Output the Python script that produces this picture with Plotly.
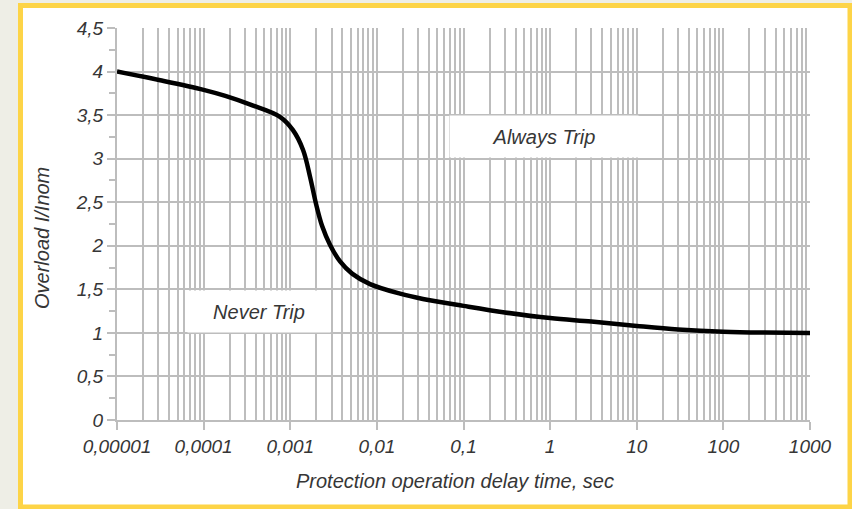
import plotly.graph_objects as go

# ---- data ----
delay_time_s = [1e-5, 3.16e-5, 1e-4, 1.78e-4, 3.47e-4, 7.6e-4, 1.07e-3, 1.406e-3,
                1.694e-3, 1.986e-3, 2.328e-3, 2.884e-3, 3.758e-3, 5.176e-3, 8.337e-3,
                1.854e-2, 3.4e-2, 0.1, 0.3, 1, 3, 10, 30, 100, 300, 1000]
overload = [4.00, 3.90, 3.79, 3.72, 3.62, 3.48, 3.33, 3.10,
            2.79, 2.48, 2.23, 2.01, 1.82, 1.68, 1.56,
            1.45, 1.39, 1.31, 1.235, 1.17, 1.13, 1.08, 1.04, 1.014, 1.004, 1.00]

x_tick_vals = [1e-5, 1e-4, 1e-3, 1e-2, 1e-1, 1, 10, 100, 1000]
x_tick_text = ["0,00001", "0,0001", "0,001", "0,01", "0,1", "1", "10", "100", "1000"]
y_tick_vals = [0, 0.5, 1, 1.5, 2, 2.5, 3, 3.5, 4, 4.5]
y_tick_text = ["0", "0,5", "1", "1,5", "2", "2,5", "3", "3,5", "4", "4,5"]
y_minor_vals = [0.25, 0.75, 1.25, 1.75, 2.25, 2.75, 3.25, 3.75, 4.25]

x_title = "Protection operation delay time, sec"
y_title = "Overload I/Inom"
label_always = "Always Trip"
label_never = "Never Trip"

# minor grid positions 2..9 x 10^k
x_minor_vals = [m * 10.0 ** k for k in range(-5, 3) for m in range(2, 10)]

GRID = "#bdbdbd"
TXT = "#363636"
FONT = "Arial, Liberation Sans, sans-serif"

W, H = 852, 509
L, R, T, B = 117, 42, 28, 89
pw, ph = W - L - R, H - T - B


def px2paper_x(px):
    return (px - L) / pw


def px2paper_y(py):
    return (H - B - py) / ph


fig = go.Figure()
fig.add_trace(go.Scatter(
    x=delay_time_s, y=overload, mode="lines",
    line=dict(color="black", width=4.5, shape="spline", smoothing=1.0),
    hoverinfo="skip", showlegend=False,
))

tick_font = dict(family=FONT, size=19, color=TXT, style="italic")

fig.update_layout(
    width=W, height=H,
    margin=dict(l=L, r=R, t=T, b=B),
    paper_bgcolor="#eeeee6",
    plot_bgcolor="white",
    font=dict(family=FONT, color=TXT, size=19, style="italic"),
    xaxis=dict(
        type="log", range=[-5, 3],
        tickmode="array", tickvals=x_tick_vals, ticktext=x_tick_text,
        ticks="outside", ticklen=8, tickwidth=2, tickcolor=GRID,
        showgrid=True, gridcolor=GRID, gridwidth=2.3,
        showline=True, linecolor=GRID, linewidth=2,
        zeroline=False,
        tickfont=tick_font,
        minor=dict(tickmode="array", tickvals=x_minor_vals, showgrid=True,
                   gridcolor=GRID, gridwidth=2.3, ticks=""),
    ),
    yaxis=dict(
        range=[0, 4.5],
        tickmode="array", tickvals=y_tick_vals, ticktext=y_tick_text,
        ticks="outside", ticklen=8, tickwidth=2, tickcolor=GRID,
        showgrid=True, gridcolor=GRID, gridwidth=2.3,
        showline=True, linecolor=GRID, linewidth=2,
        zeroline=False,
        tickfont=tick_font,
        minor=dict(tickmode="array", tickvals=y_minor_vals, ticks="outside",
                   ticklen=6, tickwidth=2, tickcolor=GRID, showgrid=False),
    ),
)

# frame: white card with yellow border
fig.add_shape(type="rect", xref="paper", yref="paper",
              x0=px2paper_x(20.5), x1=px2paper_x(850),
              y0=px2paper_y(5.5), y1=px2paper_y(507),
              line=dict(color="#fdd447", width=5), fillcolor="white", layer="below")

# text boxes
label_font = dict(family=FONT, size=20, color=TXT, style="italic")
fig.add_annotation(x=-0.069, y=3.25, xref="x", yref="y", text=label_always,
                   showarrow=False, bgcolor="white", width=186, height=39,
                   xanchor="center", yanchor="middle", font=label_font)
fig.add_annotation(x=-3.36, y=1.25, xref="x", yref="y", text=label_never,
                   showarrow=False, bgcolor="white", width=140, height=39,
                   xanchor="center", yanchor="middle", font=label_font)

# axis titles
title_font = dict(family=FONT, size=20, color=TXT, style="italic")
fig.add_annotation(x=px2paper_x(455), y=px2paper_y(481), xref="paper", yref="paper",
                   text=x_title, showarrow=False, xanchor="center", yanchor="middle",
                   font=title_font)
fig.add_annotation(x=px2paper_x(42), y=px2paper_y(238), xref="paper", yref="paper",
                   text=y_title, showarrow=False, textangle=-90,
                   xanchor="center", yanchor="middle", font=title_font)

fig.write_html("out.html", config={"displayModeBar": False},
               post_script="document.body.style.margin='0';document.body.style.overflow='hidden';")
